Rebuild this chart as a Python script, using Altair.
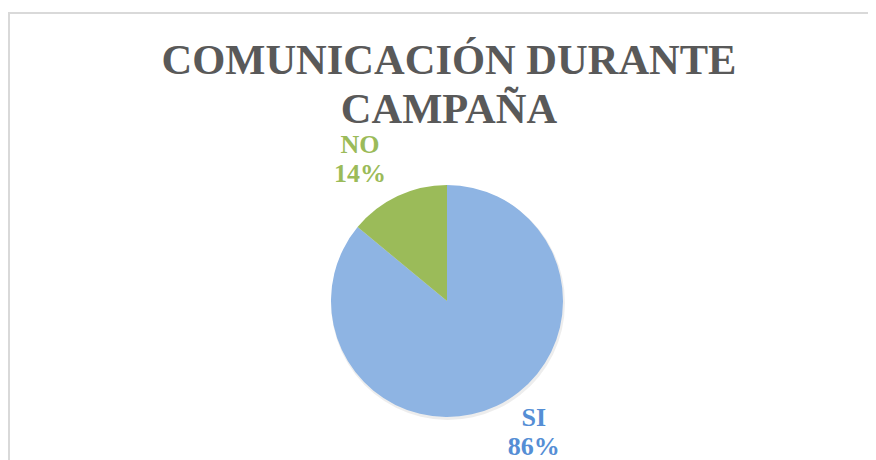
import altair as alt
import pandas as pd

categorias = ["SI", "NO"]
valores = [86, 14]
colores_sector = ["#8EB4E3", "#9BBB59"]
colores_etiqueta = ["#558ED5", "#9BBB59"]
titulo = "COMUNICACIÓN DURANTE\nCAMPAÑA"

df = pd.DataFrame({
    "categoria": categorias,
    "valor": valores,
    "orden": list(range(len(categorias))),
})
df["etiqueta"] = [f"{c}\n{v}%" for c, v in zip(categorias, valores)]

W, H = 860, 448
CX, CY = 439, 289
FONT = "Liberation Serif"

base = alt.Chart(df).encode(
    theta=alt.Theta("valor:Q", stack=True),
    order=alt.Order("orden:Q"),
)

shadow = base.mark_arc(radius=117, color="#000000", opacity=0.07).encode(
    x=alt.value(CX + 1), y=alt.value(CY + 2)
)

pie = base.mark_arc(radius=116).encode(
    color=alt.Color("categoria:N", scale=alt.Scale(domain=categorias, range=colores_sector), legend=None),
    x=alt.value(CX), y=alt.value(CY),
)

def label(cat, r, dx, dy):
    return base.mark_text(
        radius=r, dx=dx, dy=dy, font=FONT, fontSize=26, fontWeight="bold",
        lineBreak="\n", lineHeight=29, align="center", baseline="middle",
    ).encode(
        text=alt.condition(alt.datum.categoria == cat, alt.Text("etiqueta:N"), alt.value("")),
        color=alt.Color("categoria:N", scale=alt.Scale(domain=categorias, range=colores_etiqueta), legend=None),
        x=alt.value(CX), y=alt.value(CY),
    )

lab_no = label("NO", 160, -19, -11)
lab_si = label("SI", 145, 25, -14)

title_df = pd.DataFrame({"t": [titulo]})
title = alt.Chart(title_df).mark_text(
    font=FONT, fontSize=42.5, fontWeight="bold", color="#595959",
    lineBreak="\n", lineHeight=49, align="center", baseline="alphabetic",
).encode(text="t:N", x=alt.value(441), y=alt.value(62))

one = pd.DataFrame({"a": [0]})
rule_left = alt.Chart(one).mark_rule(color="#d9d9d9", strokeWidth=2).encode(
    x=alt.value(1), y=alt.value(0), y2=alt.value(H)
)
rule_top = alt.Chart(one).mark_rule(color="#d9d9d9", strokeWidth=2).encode(
    x=alt.value(0), x2=alt.value(W), y=alt.value(1)
)

chart = alt.layer(rule_left, rule_top, shadow, pie, lab_no, lab_si, title).properties(
    width=W, height=H,
    autosize=alt.AutoSizeParams(type="none"),
    padding={"left": 0, "top": 4, "right": 0, "bottom": 0},
).configure_view(stroke=None).resolve_scale(color="independent")

chart.save("out.html", embed_options={"renderer": "svg", "actions": False})
